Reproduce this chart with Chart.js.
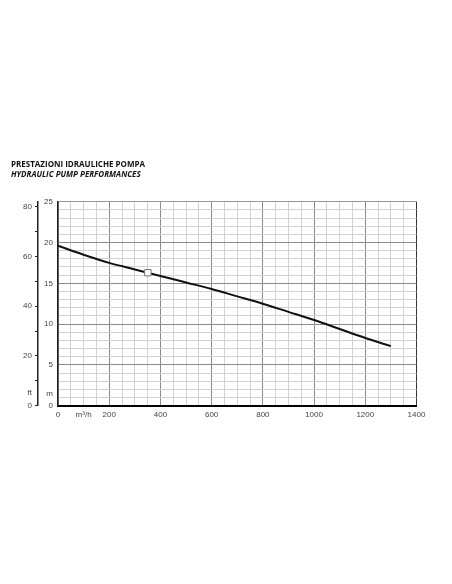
<!DOCTYPE html>
<html>
<head>
<meta charset="utf-8">
<script src="https://cdn.jsdelivr.net/npm/chart.js@4"></script>
<style>
  body { margin: 0; background: #fff; }
  #wrap { position: relative; width: 452px; height: 584px; }
  #chart { position: absolute; left: 0; top: 0; }
  .ttl { position: absolute; left: 11px; font-family: "Open Sans", sans-serif; font-weight: bold; font-size: 8px; color: #111; white-space: nowrap; }
</style>
</head>
<body>
<div id="wrap">
  <canvas id="chart" width="452" height="584"></canvas>
  <div class="ttl" style="top:158px;">PRESTAZIONI IDRAULICHE POMPA</div>
  <div class="ttl" style="top:168px; font-style:italic;">HYDRAULIC PUMP PERFORMANCES</div>
</div>
<script>
// flow rate (m3/h) and head (m)
const flow = [0, 100, 200, 300, 400, 500, 600, 700, 800, 900, 1000, 1100, 1200, 1300];
const headM = [19.6, 18.5, 17.5, 16.7, 15.9, 15.1, 14.3, 13.4, 12.5, 11.5, 10.5, 9.4, 8.3, 7.3];

// duty point marker
const dutyFlow = [351];
const dutyHead = [16.3];

// feet scale ticks (labelled every 20, marks every 10)
const ftTicks = [0, 10, 20, 30, 40, 50, 60, 70, 80];
const ftMax = 25 / 0.3048;

const ctx = document.getElementById('chart').getContext('2d');
new Chart(ctx, {
    type: 'line',
    data: {
        datasets: [{
            label: 'duty',
            data: dutyFlow.map((x, i) => ({ x: x, y: dutyHead[i] })),
            showLine: false,
            pointStyle: 'rect',
            pointRadius: 4.5,
            backgroundColor: '#fff',
            borderColor: '#777',
            borderWidth: 1,
            yAxisID: 'y'
        }, {
            label: 'head',
            data: flow.map((x, i) => ({ x: x, y: headM[i] })),
            borderColor: '#111',
            borderWidth: 2,
            pointRadius: 0,
            cubicInterpolationMode: 'monotone',
            fill: false,
            yAxisID: 'y'
        }]
    },
    options: {
        responsive: false,
        animation: false,
        layout: { padding: { left: 18, right: 35.5, top: 201.7, bottom: 158.3 } },
        plugins: { legend: { display: false }, tooltip: { enabled: false } },
        scales: {
            x: {
                type: 'linear',
                min: 0,
                max: 1400,
                afterFit: s => { s.height = 20; },
                ticks: {
                    stepSize: 50,
                    autoSkip: false,
                    maxRotation: 0,
                    padding: 4,
                    color: '#444',
                    font: { family: 'Liberation Sans', size: 8 },
                    callback: v => v % 200 === 0 ? v : (v === 100 ? 'm³/h' : '')
                },
                grid: {
                    drawTicks: false,
                    lineWidth: 1,
                    color: c => {
                        const v = c.tick.value;
                        if (v === 1400) return '#333';
                        return v % 200 === 0 ? '#8c8c8c' : '#d2d2d2';
                    }
                },
                border: { color: '#000', width: 2 }
            },
            y: {
                type: 'linear',
                position: 'left',
                weight: 0,
                min: 0,
                max: 25,
                afterFit: s => { s.width = 20; },
                afterBuildTicks: s => {
                    s.ticks.push({ value: 1.5 });
                    s.ticks.sort((a, b) => a.value - b.value);
                },
                ticks: {
                    stepSize: 1,
                    autoSkip: false,
                    padding: 5,
                    color: '#444',
                    font: { family: 'Liberation Sans', size: 8 },
                    callback: v => v === 1.5 ? 'm' : (v % 5 === 0 ? v : '')
                },
                grid: {
                    drawTicks: false,
                    color: c => {
                        const v = c.tick.value;
                        if (v === 1.5) return 'rgba(0,0,0,0)';
                        if (v === 25) return '#999';
                        return v % 5 === 0 ? '#8c8c8c' : '#d2d2d2';
                    }
                },
                border: { color: '#222', width: 1.5 }
            },
            ft: {
                type: 'linear',
                position: 'left',
                weight: 1,
                min: 0,
                max: ftMax,
                afterFit: s => { s.width = 20; },
                afterBuildTicks: s => {
                    s.ticks = ftTicks.concat([5]).sort((a, b) => a - b).map(v => ({ value: v }));
                },
                ticks: {
                    autoSkip: false,
                    padding: 3,
                    color: '#444',
                    font: { family: 'Liberation Sans', size: 8 },
                    callback: v => v === 5 ? 'ft' : (v % 20 === 0 ? v : '')
                },
                grid: {
                    drawOnChartArea: false,
                    drawTicks: true,
                    tickLength: 3,
                    tickColor: c => c.tick.value === 5 ? 'rgba(0,0,0,0)' : '#222'
                },
                border: { color: '#222', width: 1.5 }
            }
        }
    }
});
</script>
</body>
</html>
